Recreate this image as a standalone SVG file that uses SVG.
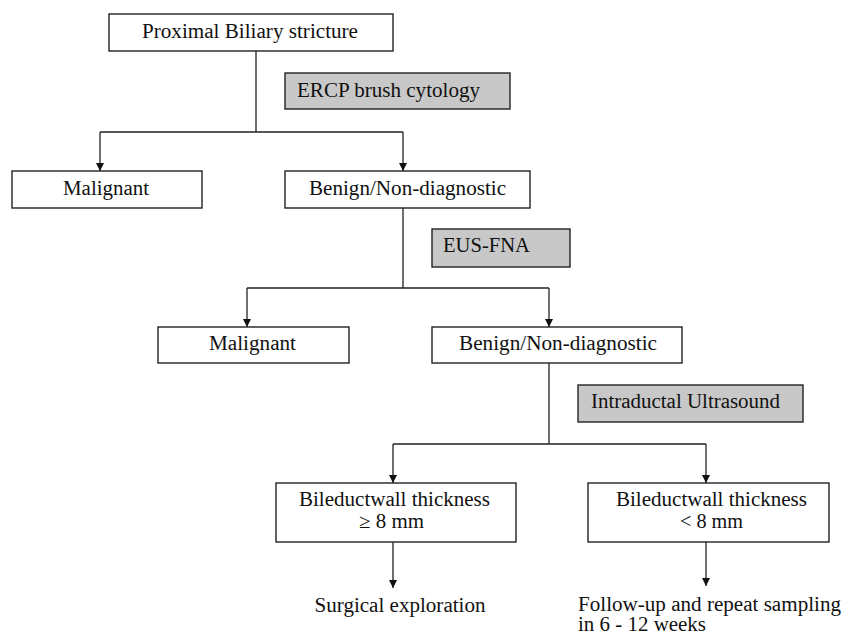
<svg xmlns="http://www.w3.org/2000/svg" width="846" height="639" viewBox="0 0 846 639">
<defs>
<marker id="arr" viewBox="0 0 10 10" refX="10" refY="5" markerWidth="9" markerHeight="8" markerUnits="userSpaceOnUse" orient="auto">
<path d="M0,0 L10,5 L0,10 z" fill="#111"/>
</marker>
<style>
.box{fill:#fff;stroke:#222;stroke-width:1.4}
.grey{fill:#c8c8c8;stroke:#222;stroke-width:1.4}
text{font-family:"Liberation Serif","Times New Roman",serif;font-size:20px;fill:#111}
.c{text-anchor:middle}
.ln{fill:none;stroke:#222;stroke-width:1.3}
</style>
</defs>
<rect width="846" height="639" fill="#fff"/>
<g id="connectors" class="ln">
<path d="M256,51 V132 M100,132 H403 M403,208 V288 M247,288 H549 M549,363 V444 M393,444 H706"/>
<path d="M100,132 V171" marker-end="url(#arr)"/>
<path d="M403,132 V171" marker-end="url(#arr)"/>
<path d="M247,288 V327" marker-end="url(#arr)"/>
<path d="M549,288 V327" marker-end="url(#arr)"/>
<path d="M393,444 V483" marker-end="url(#arr)"/>
<path d="M706,444 V483" marker-end="url(#arr)"/>
<path d="M393,542 V588" marker-end="url(#arr)"/>
<path d="M706,542 V586" marker-end="url(#arr)"/>
</g>
<g font-family="Liberation Serif, Times New Roman, serif">
<g id="n-top"><rect class="box" x="109" y="14" width="284" height="37"/><text class="c" x="250" y="38" textLength="216" lengthAdjust="spacingAndGlyphs">Proximal Biliary stricture</text></g>
<g id="n-ercp"><rect class="grey" x="285" y="73" width="225" height="36"/><text x="297" y="97" textLength="183" lengthAdjust="spacingAndGlyphs">ERCP brush cytology</text></g>
<g id="n-mal1"><rect class="box" x="12" y="171" width="190" height="37"/><text class="c" x="106" y="195" textLength="86" lengthAdjust="spacingAndGlyphs">Malignant</text></g>
<g id="n-ben1"><rect class="box" x="285" y="171" width="245" height="37"/><text class="c" x="407.5" y="195" textLength="197" lengthAdjust="spacingAndGlyphs">Benign/Non-diagnostic</text></g>
<g id="n-eus"><rect class="grey" x="432" y="229" width="138" height="38"/><text x="443" y="252" textLength="87" lengthAdjust="spacingAndGlyphs">EUS-FNA</text></g>
<g id="n-mal2"><rect class="box" x="158" y="327" width="191" height="36"/><text class="c" x="252.5" y="350" textLength="87" lengthAdjust="spacingAndGlyphs">Malignant</text></g>
<g id="n-ben2"><rect class="box" x="432" y="327" width="250" height="36"/><text class="c" x="558" y="350" textLength="198" lengthAdjust="spacingAndGlyphs">Benign/Non-diagnostic</text></g>
<g id="n-idus"><rect class="grey" x="578" y="385" width="225" height="37"/><text x="591" y="408" textLength="189" lengthAdjust="spacingAndGlyphs">Intraductal Ultrasound</text></g>
<g id="n-thick-ge"><rect class="box" x="276" y="483" width="240" height="59"/><text class="c" x="394.5" y="506" textLength="191" lengthAdjust="spacingAndGlyphs">Bileductwall thickness</text><text class="c" x="391.5" y="528" textLength="65" lengthAdjust="spacingAndGlyphs">≥ 8 mm</text></g>
<g id="n-thick-lt"><rect class="box" x="588" y="483" width="241" height="59"/><text class="c" x="711.5" y="506" textLength="191" lengthAdjust="spacingAndGlyphs">Bileductwall thickness</text><text class="c" x="711.5" y="528" textLength="63" lengthAdjust="spacingAndGlyphs">&lt; 8 mm</text></g>
<g id="n-surg"><text class="c" x="400" y="612" textLength="171" lengthAdjust="spacingAndGlyphs">Surgical exploration</text></g>
<g id="n-follow"><text x="578" y="611" textLength="263" lengthAdjust="spacingAndGlyphs">Follow-up and repeat sampling</text><text x="578" y="631" textLength="128" lengthAdjust="spacingAndGlyphs">in 6 - 12 weeks</text></g>
</g>
</svg>
